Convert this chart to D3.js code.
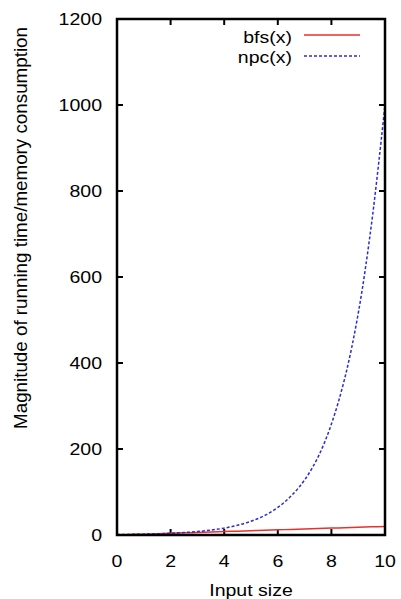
<!DOCTYPE html>
<html><head><meta charset="utf-8">
<script src="https://cdn.jsdelivr.net/npm/d3@7"></script>
<style>
html,body{margin:0;padding:0;background:#fff;}
text{font-family:"Liberation Sans",Arial,Helvetica,sans-serif;fill:#000;}
</style></head>
<body>
<svg id="c" width="401" height="599"></svg>
<script>
// ---- data ----
const xValues   = [0,0.5,1,1.5,2,2.5,3,3.5,4,4.5,5,5.5,6,6.5,7,7.5,8,8.5,9,9.5,10];
const bfsValues = [0,1,2,3,4,5,6,7,8,9,10,11,12,13,14,15,16,17,18,19,20];
const npcValues = [1,1.4,2,2.8,4,5.7,8,11.3,16,22.6,32,45,64,91,128,181,258,365,515,725,1000];
const seriesNames = ["bfs(x)","npc(x)"];
const xTicks = [0,2,4,6,8,10];
const yTicks = [0,200,400,600,800,1000,1200];
const xLabel = "Input size";
const yLabel = "Magnitude of running time/memory consumption";

const svg = d3.select("#c");
const L=117, R=385, T=19, B=535;
const x = d3.scaleLinear().domain([0,10]).range([L,R]);
const y = d3.scaleLinear().domain([0,1200]).range([B,T]);
const SX = 1.22, FS = 16;

svg.append("defs").append("clipPath").attr("id","clip")
  .append("rect").attr("x",L).attr("y",T).attr("width",R-L).attr("height",B-T);

// ticks (inward, mirrored)
const tk = 6;
const tickG = svg.append("g").attr("stroke","#000").attr("stroke-width",2);
xTicks.forEach(t=>{
  tickG.append("line").attr("x1",x(t)).attr("x2",x(t)).attr("y1",B).attr("y2",B-tk);
  tickG.append("line").attr("x1",x(t)).attr("x2",x(t)).attr("y1",T).attr("y2",T+tk);
});
yTicks.forEach(t=>{
  tickG.append("line").attr("x1",L).attr("x2",L+tk).attr("y1",y(t)).attr("y2",y(t));
  tickG.append("line").attr("x1",R).attr("x2",R-tk).attr("y1",y(t)).attr("y2",y(t));
});

// lines
const pts = (vals)=>xValues.map((xv,i)=>[xv,vals[i]]);
const line = d3.line().x(d=>x(d[0])).y(d=>y(d[1])).curve(d3.curveCatmullRom.alpha(0.5));
const plotG = svg.append("g").attr("clip-path","url(#clip)");
plotG.append("path").attr("d",line(pts(bfsValues))).attr("fill","none")
  .attr("stroke","#e8302c").attr("stroke-width",1.5);
plotG.append("path").attr("d",line(pts(npcValues))).attr("fill","none")
  .attr("stroke","#2b2bd8").attr("stroke-width",1.5).attr("stroke-dasharray","3,2");

// frame
svg.append("rect").attr("x",L).attr("y",T).attr("width",R-L).attr("height",B-T)
  .attr("fill","none").attr("stroke","#000").attr("stroke-width",2.5);

// tick labels
svg.selectAll(".yl").data(yTicks).enter().append("g")
  .attr("transform",d=>`translate(102,${y(d)+5.8}) scale(${SX},1)`)
  .append("text").attr("text-anchor","end").attr("font-size",FS).text(d=>d);
svg.selectAll(".xl").data(xTicks).enter().append("g")
  .attr("transform",d=>`translate(${x(d)},566.5) scale(${SX},1)`)
  .append("text").attr("text-anchor","middle").attr("font-size",FS).text(d=>d);

// axis titles
svg.append("g").attr("transform",`translate(${(L+R)/2},595.5) scale(${SX},1)`)
  .append("text").attr("text-anchor","middle").attr("font-size",FS).text(xLabel);
svg.append("text").attr("transform","translate(27,228) rotate(-90)")
  .attr("text-anchor","middle").attr("font-size",18.8).text(yLabel);

// legend
const legY = [42.5, 62.5];
const legLineY = [35, 56];
const legG = svg.append("g");
seriesNames.forEach((n,i)=>{
  legG.append("g").attr("transform",`translate(292,${legY[i]}) scale(${SX},1)`)
    .append("text").attr("text-anchor","end").attr("font-size",FS).text(n);
  const ln = legG.append("line").attr("x1",304).attr("x2",360)
    .attr("y1",legLineY[i]).attr("y2",legLineY[i]).attr("stroke-width",1.5)
    .attr("stroke", i===0 ? "#e8302c" : "#2b2bd8");
  if(i===1) ln.attr("stroke-dasharray","3,2");
});
</script>
</body></html>
